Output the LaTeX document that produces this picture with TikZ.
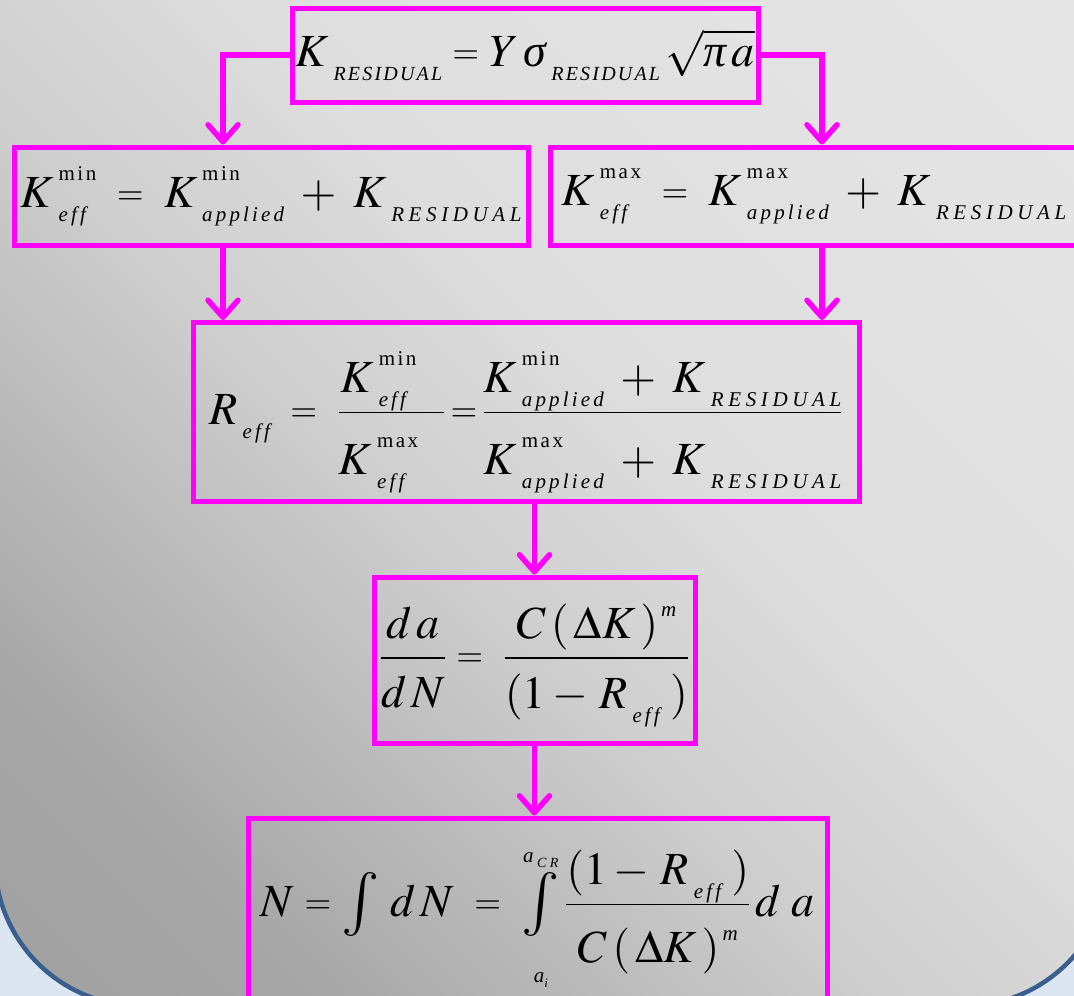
\documentclass[tikz,border=0pt]{standalone}
\usepackage{amsmath}
\usepackage{mathptmx}
\usepackage{graphicx}
\usepackage{fontspec}
\setmainfont{Liberation Serif}
\usetikzlibrary{arrows.meta}
\definecolor{mag}{HTML}{FF00FF}
\definecolor{outblue}{HTML}{DCE6F2}
\definecolor{rimblue}{HTML}{3A5F8E}
\pgfdeclarehorizontalshading{bgshade}{100bp}{color(0bp)=(black!40);color(25bp)=(black!35);color(45bp)=(black!19);color(57bp)=(black!13);color(100bp)=(black!8)}
\newcommand\subsize{21}
\newcommand\subls{15}
\newcommand\resls{22}
\newcommand\supf{\fontsize{21}{21}\selectfont\rmfamily\upshape\addfontfeature{LetterSpace=12}}
\newcommand\subfx[1]{\fontsize{\subsize}{\subsize}\selectfont\rmfamily\itshape\addfontfeature{LetterSpace=#1}}
\newcommand\SupSub[2]{\mbox{\hspace{5pt}\setbox0\hbox{\raisebox{27pt}{\supf #1}}\setbox2\hbox{\raisebox{-14pt}{\subfx{\subls}#2}}\ifdim\wd0>\wd2 \rlap{\box2}\box0\else\rlap{\box0}\box2\fi}}
\newcommand\SubOnly[1]{\mbox{\hspace{5pt}\raisebox{-14pt}{\subfx{\subls}#1}}}
\newcommand\SubRes{\mbox{\hspace{5pt}\raisebox{-14pt}{\subfx{\resls}RESIDUAL}}}
\newcommand\SupOnly[1]{\mbox{\hspace{3pt}\raisebox{22pt}{\fontsize{21}{21}\selectfont\itshape #1}}}
\newcommand\gr[1]{\mbox{\itshape #1}}
\newcommand\Eq{\mathrel{\raisebox{2.9pt}{\scalebox{0.75}{$=$}}}}
\newcommand\Int{\mathop{\vcenter{\hbox{\fontsize{64}{64}\selectfont$\int$}}}}
\newcommand\dstr[1]{\rule{0pt}{#1}}
\tikzset{
  fbox/.style={draw=mag, line width=5pt, inner sep=0pt, align=center,
    font=\fontsize{46}{50}\selectfont},
  conn/.style={draw=mag, line width=5.5pt, -{Straight Barb[length=17pt,width=30pt,round]}}
}
\begin{document}
\begin{tikzpicture}[x=1pt,y=-1pt]
\useasboundingbox (0,0) rectangle (1074,996);
\clip (0,0) rectangle (1074,996);
\shade[shading=bgshade, shading angle=45] (0,0) rectangle (1074,996);
\fill[outblue, even odd rule] (-10,-10) rectangle (1084,1006) (-5,-400) [rounded corners=146pt] rectangle (1110,1006);
\draw[rimblue, line width=4.5pt, rounded corners=146pt] (-5,-400) rectangle (1110,1006);

\node[fbox, minimum width=466pt, minimum height=94pt] (top) at (525,55)
  {\renewcommand\subsize{20}\renewcommand\resls{11}%
   $K\SubRes \Eq Y\,\gr{σ}\SubRes\,\sqrt{\gr{π}\, a}$};
\node[fbox, minimum width=514pt, minimum height=98pt] (b2) at (271,196)
  {$K\SupSub{min}{eff} \;\Eq\; K\SupSub{min}{applied} \;+\; K\SubRes$};
\node[fbox, minimum width=527pt, minimum height=98pt] (b3) at (814,196)
  {$K\SupSub{max}{eff} \;\Eq\; K\SupSub{max}{applied} \;+\; K\SubRes$};
\node[fbox, minimum width=666pt, minimum height=179pt, text height=72pt, text depth=48pt] (b4) at (526,412)
  {$\displaystyle R\SubOnly{eff} \;\Eq\; \frac{\smash[b]{K\SupSub{min}{eff}}\hspace{26pt}}{\dstr{56pt}K\SupSub{max}{eff}\hspace{26pt}} \!\Eq\! \frac{\smash[b]{K\SupSub{min}{applied} \;+\; K\SubRes}}{\dstr{56pt}K\SupSub{max}{applied} \;+\; K\SubRes}$};
\node[fbox, minimum width=321pt, minimum height=166pt, text height=69pt, text depth=50pt] (b5) at (534.5,660)
  {$\displaystyle \frac{d\,a}{\dstr{43pt}d\,N} \Eq\; \frac{C\,(\,\Delta K\,)\SupOnly{m}}{\dstr{44pt}(1 - \,R\SubOnly{eff}\;)}$};
\node[fbox, minimum width=579pt, minimum height=182pt, text height=67pt, text depth=53pt] (b6) at (537.5,909)
  {$\displaystyle N \Eq \Int \,d\,N \;\Eq\; \Int\limits_{\raisebox{-18pt}{\fontsize{21}{21}\selectfont\itshape a\raisebox{-5pt}{\fontsize{13}{13}\selectfont i}}}^{\raisebox{-4pt}{\fontsize{21}{21}\selectfont\itshape a\,\raisebox{-5pt}{\fontsize{14}{14}\selectfont\addfontfeature{LetterSpace=25}CR}}} \frac{\smash[b]{(1 - \,R\SubOnly{eff}\;)}}{\dstr{52pt}C\,(\,\Delta K\,)\SupOnly{m}}\,d\;a$};

\draw[conn] (top.west) -| ([xshift=-48pt]b2.north);
\draw[conn] (top.east) -| ([xshift=8pt]b3.north);
\draw[conn] ([xshift=-48pt]b2.south) -- ([xshift=-48pt]b2.south |- b4.north);
\draw[conn] ([xshift=8pt]b3.south) -- ([xshift=8pt]b3.south |- b4.north);
\draw[conn] (b5.north |- b4.south) -- (b5.north);
\draw[conn] (b5.south) -- (b5.south |- b6.north);
\end{tikzpicture}
\end{document}
